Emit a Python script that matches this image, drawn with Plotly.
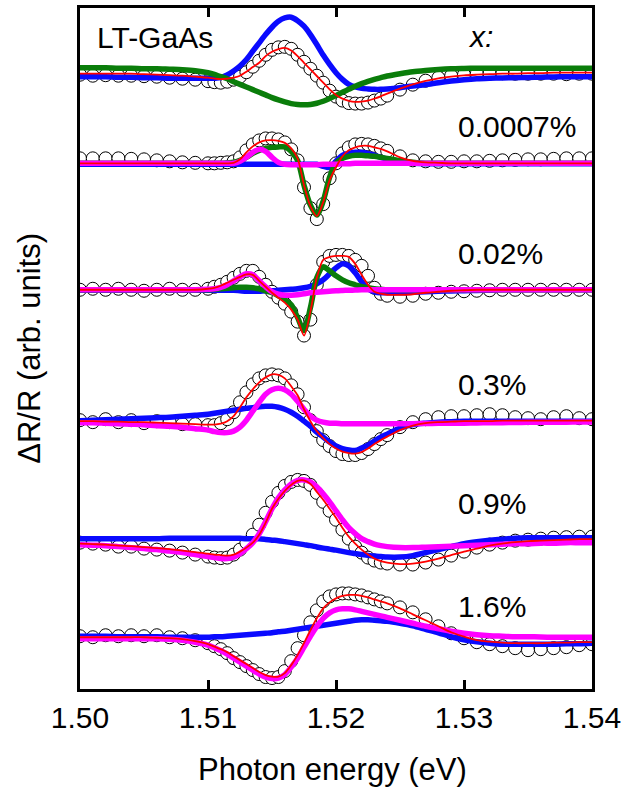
import plotly.graph_objects as go

# Photon energy grid (eV)
energy = [1.500, 1.501, 1.502, 1.503, 1.504, 1.505, 1.506, 1.507, 1.508, 1.509, 1.510,
          1.5105, 1.511, 1.5115, 1.512, 1.5125, 1.513, 1.5135, 1.514, 1.5145, 1.515,
          1.5155, 1.516, 1.5165, 1.517, 1.5175, 1.518, 1.5185, 1.519, 1.5195, 1.520,
          1.5205, 1.521, 1.5215, 1.522, 1.5225, 1.523, 1.5235,
          1.524, 1.525, 1.526, 1.527, 1.528, 1.529, 1.530, 1.531, 1.532, 1.533, 1.534,
          1.535, 1.536, 1.537, 1.538, 1.539, 1.540]

labels = ["LT-GaAs", "0.0007%", "0.02%", "0.3%", "0.9%", "1.6%"]
offsets = [618, 528, 401, 269, 149, 51]   # vertical offsets of the stacked spectra (arb. units)

# ---- LT-GaAs ----
lt_data = [-1, -2, -1.5, -2, -2, -2.5, -3, -4, -5, -6, -7.5, -8.5, -9, -8, -6, -3, 1.5, 7, 13, 19, 24,
           26.5, 27, 25, 19, 12, 5, -2, -9, -17, -23, -27, -29.5, -30, -30, -29, -27, -25,
           -22, -16, -11, -7, -4, -2, -1, 0, 0, 0.5, 0, 0, 0, 0, -0.5, 0, 0]
lt_fit = [0, 0, 0, 0, 0, -0.5, -1, -1.5, -2, -3, -4, -5, -5.5, -5, -4, -2, 2, 6.7, 11, 17.7, 22,
          24.7, 26, 23.3, 17.7, 11, 4.3, -2.3, -9, -15.7, -21.3, -25, -27.3, -28.3, -28, -27, -25, -22.7,
          -20, -15, -10.7, -7.3, -4.7, -3, -1.7, -1, -0.5, 0, 0, 0.5, 0.5, 1, 1, 1, 1]
lt_blue = [-3, -3, -3, -3.5, -3.5, -4, -4, -4.5, -4.5, -4.5, -4.5, -4.5, -4, -1.3, 2.7, 7.7, 14.3, 22.7, 31, 39.3, 46.7,
           52.7, 56, 56.7, 53.3, 47.7, 39.3, 29.3, 18.7, 9.3, 1, -5.7, -10.7, -13.3, -14.7, -15.3, -15.7, -15.7,
           -15.3, -14, -12.3, -11, -9, -7.3, -6, -5, -4.5, -4.2, -4, -3.8, -3.5, -3.3, -3, -3, -3]
lt_green = [6, 6, 6, 5.5, 5.5, 5, 5, 4.5, 4, 3, 1, -0.7, -3, -5, -8, -10.7, -13.3, -16, -18.7, -21.3, -24,
            -26.3, -28.3, -30, -31, -31.3, -31, -29.7, -27.7, -25, -22, -18.7, -15.7, -12.7, -10, -7.7, -5.7, -4,
            -2.3, 0, 2, 3.3, 4.3, 5, 5.3, 5.5, 5.5, 5.5, 5.5, 5.5, 5.5, 5.5, 5.5, 5.5, 5.5]

# ---- x = 0.0007% ----
x1_data = [5, 5, 5, 5, 4.5, 4, 3, 2, 1, 0.5, 0, 0, 0.5, 1, 2, 6, 13, 19, 23, 25, 25,
           24, 21, 14, 3, -24, -45, -56, -41, -15, 0, 10, 16, 19, 19.5, 19, 17.5, 15,
           12.5, 7, 3, 2, 1.5, 1.5, 2, 2, 2.5, 3, 3.5, 4, 4, 4.5, 5, 5, 5]
x1_fit = [0, 0, 0, 0, 0, 0, 0, 0, 0, 0, 0, 0, 0, 0, 0.5, 4, 11, 17, 21, 23, 23.3,
          22.5, 20.5, 15, 5, -22, -43, -53, -39, -17, -4, 7, 13, 16, 17.5, 17.5, 16, 14.5,
          12, 6, 2.5, 1, 0.5, 0, 0, 0, 0, 0, 0, 0, 0, 0, 0, 0, 0]
x1_blue = [-1, -1, -1, -1, -1, -1, -1, -1, -1, -1, -1, -1, -1, -1, -1, -1, -1, -1, -1, -1, -1,
           -1, -1, -1, -1, -1, -1, -1, -3, -4, 2, 8, 10, 11, 11, 10, 8, 6,
           4, 1, 0, -0.5, -0.5, -0.5, -0.5, -0.5, -0.5, -0.5, -0.5, -0.5, -0.5, -0.5, -0.5, -0.5, -0.5]
x1_green = [0, 0, 0, 0, 0, 0, 0, 0, 0, 0, 0, 0, 0, 0.5, 1, 3, 6, 10, 13, 15, 16,
            16.5, 16.5, 12, 3, -22, -42, -52, -38, -14, 0, 5, 7, 8, 8, 7.5, 7, 6,
            5, 2.5, 1, 0, 0, 0, 0, 0, 0, 0, 0, 0, 0, 0, 0, 0, 0]
x1_magenta = [0, 0, 0, 0, 0, 0, 0, 0, 0, 0, 0, 0, 0, 0, 0, 2, 6, 11, 14, 12, 6,
              1, -1, -1.5, -1.5, -1.5, -1.5, -1.5, -1, -1, -1, -0.5, -0.5, 0, 0, 0, 0, 0,
              0, 0, 0, 0, 0, 0, 0, 0, 0, 0, 0, 0, 0, 0, 0, 0, 0]

# ---- x = 0.02% ----
x2_data = [0, 1, 0, 1, 0, -1, 0, 1, 0, 0, 1, 3, 5, 8, 12, 16, 19, 19, 13, 5, -2,
           -8, -14, -22, -32, -46, -30, 5, 28, 34, 35, 35, 34, 30, 24, 14, 2, -4,
           -6, -7, -6, -4, -3, -2, -1.5, -1, -0.5, 0, 0, 0, 0, 0, 0, 0, 0]
x2_fit = [0, 0, 0, 0, 0, 0, 0, 0, 0, 0, 1, 2, 4, 7, 10, 13, 15.5, 15, 9, 3, -3,
          -8, -13, -20, -30, -46, -22, 12, 30, 33, 34, 34, 33, 26, 15, 5, -2, -4,
          -5, -5, -4.5, -3, -2, -1, -0.5, 0, 0, 0, 0, 0, 0, 0, 0, 0, 0]
x2_blue = [-0.5, -0.5, -0.5, -0.5, -0.5, -0.5, -0.5, -0.5, -0.5, -0.5, -0.5, -0.5, -0.5, -0.5, -0.5, -1, -1.5, -1.5, -1.5, -1, -1,
           -0.5, 0, 0.5, 1, 2, 3.5, 6, 10, 16, 22, 26, 24, 17, 8, 1, -2, -3,
           -3, -3, -2.5, -2, -1.5, -1.2, -1, -0.7, -0.5, 0, 0, 0, 0, 0, 0, 0, 0]
x2_green = [0, 0, 0, 0, 0, 0, 0, 0, 0, 0, 0, 0.5, 1, 1.5, 2, 2.5, 2.5, 2, 1, -1, -3,
            -6, -10, -15, -28, -41, -18, 12, 23, 19, 14, 10, 7, 5, 3, 2, 1, 0.5,
            0, 0, 0, 0, 0, 0, 0, 0, 0, 0, 0, 0, 0, 0, 0, 0, 0]
x2_magenta = [0, 0, 0, 0, 0, 0, 0, 0, 0, 0, 0.5, 1, 2.5, 5, 9, 13, 16, 15, 9, 3, -2,
              -4.5, -5.5, -5.5, -5, -4, -3, -2.5, -2, -1.5, -1, -0.7, -0.5, -0.3, 0, 0, 0, 0,
              0, 0, 0, 0, 0, 0, 0, 0, 0, 0, 0, 0, 0, 0, 0, 0, 0]

# ---- x = 0.3% ----
x3_data = [1, -1, 2, -1, 1, -2, 0, -1, -3, -3, -4, -4, -2, 2, 9, 19, 29, 37, 43, 46, 47,
           46, 43, 36, 27, 14, 1, -10, -19, -25, -30, -33, -34, -34, -32, -28, -23, -18,
           -14, -6, -1, 2, 4, 5, 5, 6, 7, 6, 4, 3, 2, 4, 5, 3, 2]
x3_fit = [0, 0, -0.5, -0.5, -1, -1, -1.5, -2, -2.5, -3, -3.5, -3.5, -2.5, 0, 5, 14, 24, 32, 39, 44, 47,
          46.5, 43, 35, 26, 12, 0, -10, -17, -23, -27.5, -30.5, -32, -32.5, -31, -27.5, -23, -19,
          -15.5, -9, -4.5, -2, -1, -0.5, 0, 0, 0, 0.5, 0.5, 0.5, 0.5, 0.5, 0.5, 0.5, 0.5]
x3_blue = [0.5, 1, 1.5, 2, 2.5, 3, 3.5, 4, 5, 6, 7, 8, 9, 10, 11, 12, 13, 13.5, 14.5, 15, 15,
           14, 12, 9, 5, 0, -5, -11, -16, -21, -25, -27.5, -29, -29.5, -27, -24, -20, -16,
           -13, -7, -3.5, -2, -1, -0.5, 0, 0, 0, 0, 0, 0, 0, 0, 0, 0, 0]
x3_magenta = [-1.5, -1.5, -2, -2.5, -3, -3.5, -4.5, -5, -6, -7.5, -9, -10.5, -11.5, -11.5, -10, -6, 1, 10, 19, 27, 31.5,
              33, 31.5, 27, 20, 12, 5, 1, -1, -2, -2, -2.5, -2.5, -2.5, -2.5, -2.5, -2.5, -2.5,
              -2.5, -2.5, -2.5, -2.3, -2.2, -2, -2, -1.8, -1.6, -1.5, -1.3, -1.2, -1, -1, -1, -0.8, -0.7]

# ---- x = 0.9% ----
x4_data = [-2, -3, -4, -6, -6, -8, -9, -10, -12, -14, -16, -17, -17.5, -17, -14, -9, -2, 6, 16, 28, 39,
           48, 55, 59, 61, 60, 56, 48, 39, 30, 21, 11, 2, -6, -12, -17, -20, -22,
           -23, -24, -24, -22, -19, -15, -11, -7, -4, -2, 0, 1, 2, 3, 3.5, 4, 4]
x4_fit = [-3, -3.5, -4, -5, -5.5, -6.5, -7.5, -8.5, -10, -11.5, -13, -14, -14.5, -15, -14, -11, -7, -2, 6, 18, 32,
          42, 50, 56, 60, 60.5, 57, 49, 41, 32, 23, 13, 4, -3, -9, -14, -18, -20.5,
          -22, -23.5, -23, -21, -18, -14.5, -11, -8, -5, -3, -1.5, -0.5, 0, 0.5, 1, 1.5, 1.5]
x4_blue = [2, 2, 2, 2, 2, 2, 2, 2.5, 2.5, 2.5, 2.5, 2.5, 2.5, 2.5, 2.5, 2.3, 2, 2, 1.8, 1.2, 0.5,
           0, -1, -2, -3, -4, -5, -6.3, -7.5, -8.5, -9.5, -10.8, -12, -13, -14, -14.8, -15.5, -16,
           -16.5, -16.5, -15, -12, -9, -6, -3, -1, 0.5, 1.5, 2.5, 3, 3, 3, 3, 3, 3]
x4_magenta = [-4, -4.5, -5, -6, -7, -8, -9, -10.5, -12, -14, -16, -17, -18, -18, -16.5, -13, -8, -2, 7, 19, 32,
              43, 51, 57, 60.5, 61, 59, 54, 47, 39, 30, 21, 13, 7, 2, -1, -3.5, -5,
              -6, -7, -7, -6.5, -6, -5.5, -5, -4.5, -4, -3.5, -3, -3, -2.5, -2.5, -2, -2, -2]

# ---- x = 1.6% ----
x5_data = [2, 1, 3, 2, 3, 2, 3, 1, 0, -2, -5, -8, -11, -15, -20, -24, -28, -32, -36, -39, -40,
           -39, -33, -23, -10, 3, 16, 28, 37, 42, 44, 45, 45, 44, 43, 41, 39, 37,
           35, 31, 26, 19, 12, 5, 0, -4, -6, -8, -10, -12, -11, -10, -9, -7, -6]
x5_fit = [1, 1, 1, 1, 1, 1, 0.5, 0, -1, -3, -6, -8.5, -11, -14, -18, -22, -26, -30, -34, -37, -38.5,
          -38.5, -35, -27, -17, -5, 8, 20, 30, 36, 40, 42.5, 43.5, 43.5, 42.5, 41, 39, 37,
          35, 30, 24, 18, 12, 6, 1.5, -2, -3.5, -4.5, -5, -5, -5, -4.5, -4.5, -4, -4]
x5_blue = [2, 2, 2, 1.5, 1.5, 1.5, 1.5, 1, 1, 1, 1, 1.5, 1.5, 2, 2.5, 3, 3.5, 4, 4.5, 5, 5.5,
           6.5, 7, 8, 9, 10, 11, 12, 13, 14, 15, 16, 17, 18, 18.5, 18.5, 18, 17.5,
           17, 15, 12.5, 9, 5.5, 1.5, -1.5, -3.5, -5, -6, -6, -6, -6, -6, -5.5, -5.5, -5]
x5_magenta = [-0.5, -0.5, -0.5, -0.5, -0.5, -0.5, -0.5, -1, -2, -4, -7, -9.5, -12.5, -16, -20, -24, -28, -32, -36, -39, -40.5,
              -40, -36.5, -29, -20, -9, 2, 12, 20, 25.5, 28.5, 29.5, 29.5, 28.5, 27, 25.5, 24, 22.5,
              21, 18, 15, 12, 9.5, 7, 5, 3.5, 2.5, 2, 1.5, 1.5, 1.2, 1, 1, 1, 1]

data_sets = [lt_data, x1_data, x2_data, x3_data, x4_data, x5_data]
fit_sets = [lt_fit, x1_fit, x2_fit, x3_fit, x4_fit, x5_fit]
blue_sets = [lt_blue, x1_blue, x2_blue, x3_blue, x4_blue, x5_blue]
green_sets = [lt_green, x1_green, x2_green, None, None, None]
magenta_sets = [None, x1_magenta, x2_magenta, x3_magenta, x4_magenta, x5_magenta]

BLUE = "#0a0aff"
GREEN = "#0a7d0a"
MAGENTA = "#ff00ff"
RED = "#ff0000"

def shift(vals, off):
    return [off + v for v in vals]

fig = go.Figure()

# measured data (open circles)
for vals, off in zip(data_sets, offsets):
    fig.add_trace(go.Scatter(x=energy, y=shift(vals, off), mode="markers",
                             marker=dict(symbol="circle", size=13, color="white",
                                         line=dict(color="black", width=1)),
                             showlegend=False, hoverinfo="skip"))

# components
for sets, col in [(blue_sets, BLUE), (green_sets, GREEN), (magenta_sets, MAGENTA)]:
    for vals, off in zip(sets, offsets):
        if vals is None:
            continue
        fig.add_trace(go.Scatter(x=energy, y=shift(vals, off), mode="lines",
                                 line=dict(color=col, width=5.5, shape="spline", smoothing=0.8),
                                 showlegend=False, hoverinfo="skip"))

# fits
for vals, off in zip(fit_sets, offsets):
    fig.add_trace(go.Scatter(x=energy, y=shift(vals, off), mode="lines",
                             line=dict(color=RED, width=1.8, shape="spline", smoothing=0.8),
                             showlegend=False, hoverinfo="skip"))

FONT = "Liberation Sans, Arial, sans-serif"
W, H = 626, 789
L, R, T, B = 80, 31, 5, 100
pw, ph = W - L - R, H - T - B

def px2paper(px, py):
    return (px - L) / pw, (H - B - py) / ph

annots = []
def add_text(text, px, py, size=30, xanchor="left"):
    x, y = px2paper(px, py)
    annots.append(dict(text=text, x=x, y=y, xref="paper", yref="paper", showarrow=False,
                       xanchor=xanchor, yanchor="middle", font=dict(size=size, family=FONT, color="black")))

add_text(labels[0], 95, 35)
add_text("<i>x:</i>", 468, 34)
for lab, py in zip(labels[1:], [124, 252, 383, 503, 606]):
    add_text(lab, 458, py)

# axis titles
xt, yt = px2paper(334, 770)
annots.append(dict(text="Photon energy (eV)", x=xt, y=yt, xref="paper", yref="paper", showarrow=False,
                   xanchor="center", yanchor="middle", font=dict(size=31, family=FONT, color="black")))
xt, yt = px2paper(29, 347)
annots.append(dict(text="ΔR/R (arb. units)", x=xt, y=yt, xref="paper", yref="paper", showarrow=False,
                   textangle=-90, xanchor="center", yanchor="middle",
                   font=dict(size=31, family=FONT, color="black")))

tick_vals = [1.50, 1.51, 1.52, 1.53, 1.54]
tick_text = ["1.50", "1.51", "1.52", "1.53", "1.54"]

fig.update_layout(
    width=W, height=H,
    margin=dict(l=L, r=R, t=T, b=B),
    paper_bgcolor="white", plot_bgcolor="white",
    annotations=annots,
    xaxis=dict(range=[1.50, 1.54], tickvals=tick_vals, ticktext=tick_text,
               ticks="inside", ticklen=9, tickwidth=3, tickcolor="black",
               showline=True, linewidth=3, linecolor="black", mirror="ticks",
               showgrid=False, zeroline=False,
               tickfont=dict(size=30, family=FONT, color="black")),
    yaxis=dict(range=[0, 684], showticklabels=False, ticks="",
               showline=True, linewidth=3, linecolor="black", mirror=True,
               showgrid=False, zeroline=False),
)

fig.write_html("out.html", config={"displayModeBar": False},
               post_script="document.body.style.margin='0px';document.body.style.overflow='hidden';")
